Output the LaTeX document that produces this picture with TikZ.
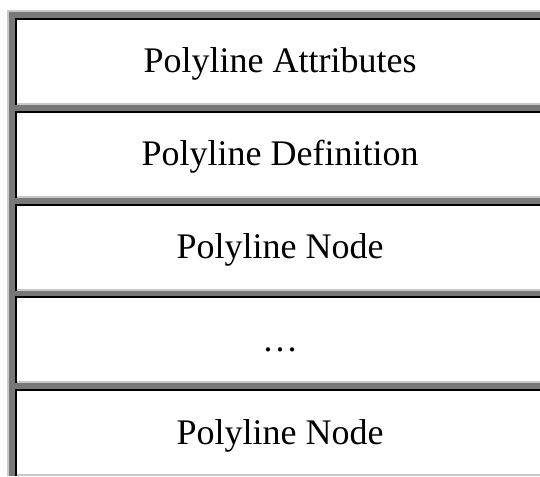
\documentclass[tikz,border=0pt]{standalone}
\usepackage{fontspec}
\setmainfont{Liberation Serif}
\definecolor{lightframe}{RGB}{200,200,200}
\definecolor{darkframe}{RGB}{120,120,120}
\begin{document}
\begin{tikzpicture}[x=1pt,y=-1pt,
  rowtext/.style={font=\fontsize{36}{42}\selectfont, anchor=base}]
  \pgfmathsetmacro{\rowstep}{92.75}
  \useasboundingbox (0,0) rectangle (540,476);
  \fill[white] (0,0) rectangle (540,476);
  % table frame and cell spacing
  \fill[lightframe] (7,10) rectangle (540,476);
  \fill[darkframe] (9,12) rectangle (540,476);
  \foreach \I/\Name/\Label in {0/attr/Polyline Attributes,1/defn/Polyline Definition,
      2/nodeone/Polyline Node,3/dots/…,4/nodelast/Polyline Node} {%
    \pgfmathsetmacro{\T}{18+\I*\rowstep}
    \fill[black] (15,\T) rectangle (540,\T+87);
    \fill[lightframe] (17,\T+2) rectangle (540,\T+87);
    \fill[white] (17,\T+2) rectangle (540,\T+85);
    \node[rowtext] (\Name) at (280,\T+55) {\Label};
  }
\end{tikzpicture}
\end{document}
